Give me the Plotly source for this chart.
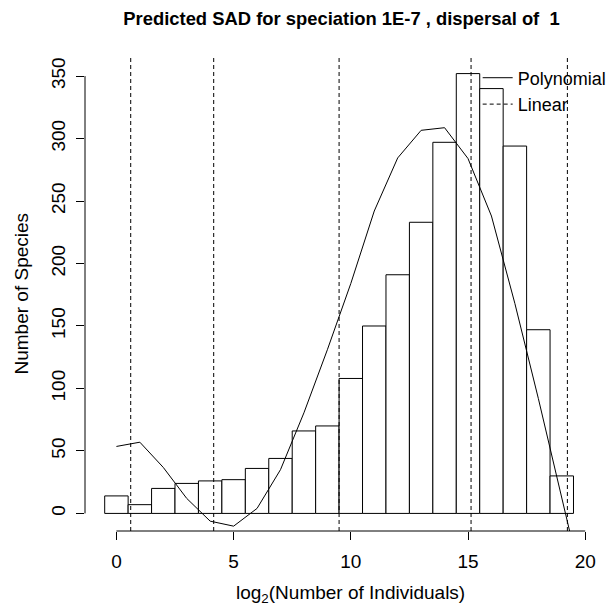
import plotly.graph_objects as go

# ---- data ----
bin_centers = list(range(20))
species_counts = [14, 7, 20, 24, 26, 27, 36, 44, 66, 70,
                  108, 150, 191, 233, 297, 352, 340, 294, 147, 30]

poly_x = list(range(21))
poly_y = [53.6, 57.0, 36.8, 12.0, -6.2, -10.2, 4.0, 35.0, 80.5, 131.0,
          184.0, 242.0, 284.5, 306.6, 308.7, 284.0, 238.0, 168.0, 92.0, 13.3, -67.0]

linear_x = [0.61, 4.15, 9.5, 15.13, 19.24]

x_ticks = [0, 5, 10, 15, 20]
y_ticks = [0, 50, 100, 150, 200, 250, 300, 350]

title_text = "Predicted SAD for speciation 1E-7 , dispersal of \u00a01"

# ---- axis ranges (R style 4% extension) ----
X_RANGE = [-1.34, 21.015]
Y_RANGE = [-14.08, 366.08]

FONT = "Liberation Sans, Arial, sans-serif"
W, H = 620, 607  # plot region runs to the window's right edge (609)

fig = go.Figure()

fig.add_trace(go.Bar(
    x=bin_centers, y=species_counts, width=1,
    marker=dict(color="white", line=dict(color="black", width=1)),
    showlegend=False, hoverinfo="skip",
))

fig.add_trace(go.Scatter(
    x=poly_x, y=poly_y, mode="lines", name="Polynomial",
    line=dict(color="black", width=1),
))

lx, ly = [], []
for v in linear_x:
    lx += [v, v, None]
    ly += [Y_RANGE[0], Y_RANGE[1], None]
fig.add_trace(go.Scatter(
    x=lx, y=ly, mode="lines", name="Linear",
    line=dict(color="black", width=1, dash="4px,3px"),
))

# R-style axis lines spanning first to last tick
fig.add_shape(type="line", xref="x", yref="paper",
              x0=x_ticks[0], x1=x_ticks[-1], y0=0, y1=0,
              line=dict(color="black", width=1))
fig.add_shape(type="line", xref="paper", yref="y",
              x0=0, x1=0, y0=y_ticks[0], y1=y_ticks[-1],
              line=dict(color="black", width=1))

# axis titles
fig.add_annotation(xref="x", yref="paper", x=10, y=-0.1326,
                   text="log<sub>2</sub>(Number of Individuals)", showarrow=False,
                   xanchor="center", yanchor="middle",
                   font=dict(family=FONT, size=19, color="black"))
fig.add_annotation(xref="paper", yref="paper", x=-0.1221, y=0.5,
                   text="Number of Species", showarrow=False, textangle=-90,
                   xanchor="center", yanchor="middle",
                   font=dict(family=FONT, size=19, color="black"))

fig.update_layout(
    width=W, height=H,
    margin=dict(l=85, r=11, t=56, b=76, autoexpand=False),
    paper_bgcolor="white", plot_bgcolor="white",
    barmode="overlay",
    title=dict(text="<b>" + title_text + "</b>", xref="container", yref="container",
               x=341.5 / W, y=1 - 19 / H, xanchor="center", yanchor="middle",
               font=dict(family=FONT, size=18.4, color="black")),
    xaxis=dict(range=X_RANGE, tickvals=x_ticks, ticks="outside", ticklen=8,
               tickcolor="black", showline=False, showgrid=False, zeroline=False,
               ticklabelstandoff=5, automargin=False,
               tickfont=dict(family=FONT, size=19, color="black")),
    yaxis=dict(range=Y_RANGE, tickvals=y_ticks, ticks="outside", ticklen=8,
               tickcolor="black", showline=False, showgrid=False, zeroline=False,
               tickangle=-90, ticklabelstandoff=3, automargin=False,
               tickfont=dict(family=FONT, size=19, color="black")),
    legend=dict(x=0.7494, y=0.9926, xanchor="left", yanchor="top",
                bgcolor="rgba(0,0,0,0)", borderwidth=0, itemwidth=30,
                font=dict(family=FONT, size=18, color="black"),
                tracegroupgap=0),
    showlegend=True,
)

fig.write_html(
    "out.html",
    config={"displayModeBar": False},
    post_script=("document.body.style.margin='0';"
                 "document.body.style.overflow='hidden';"
                 "document.documentElement.style.overflow='hidden';"),
)
